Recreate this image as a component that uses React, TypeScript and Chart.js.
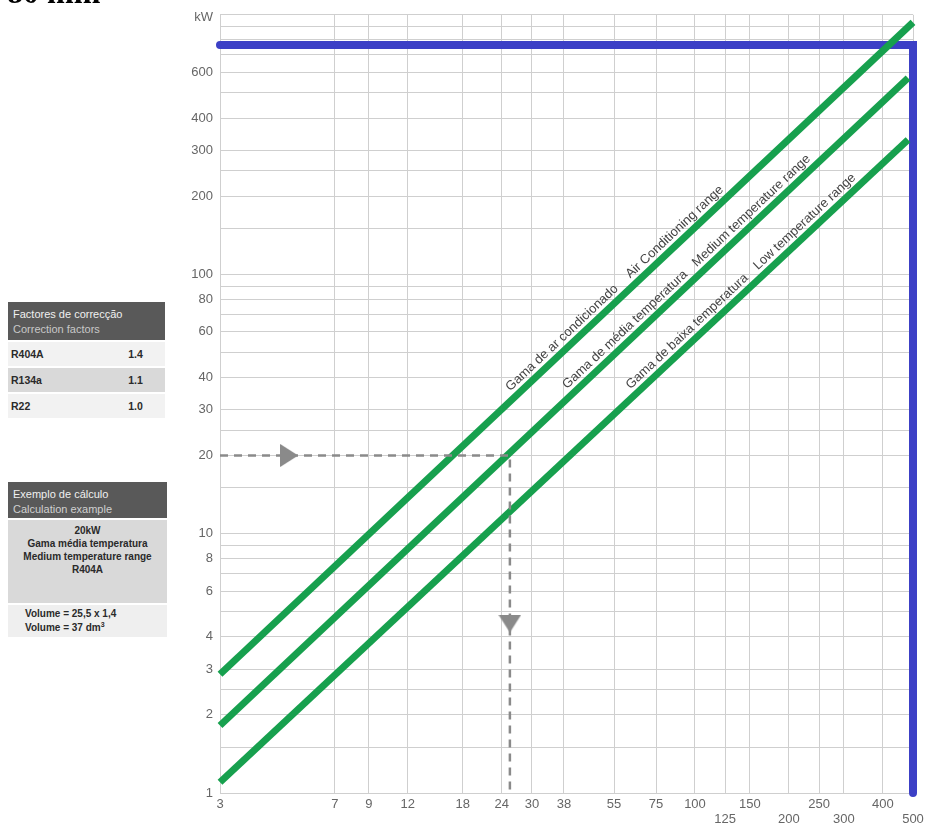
import React, { useEffect, useRef } from 'react';
import { Chart, registerables } from 'chart.js';

Chart.register(...registerables);

// ---- axes ----
const xTicks = [3, 7, 9, 12, 18, 24, 30, 38, 55, 75, 100, 125, 150, 200, 250, 300, 400, 500];
const xLowerRow = [125, 200, 300, 500];
const yGrid = [1, 1.5, 2, 2.5, 3, 4, 5, 6, 7, 8, 9, 10, 15, 20, 25, 30, 40, 50, 60, 70, 80, 90, 100, 150, 200, 250, 300, 400, 500, 600, 700, 800, 900, 1000];
const yLabels = [1, 2, 3, 4, 6, 8, 10, 20, 30, 40, 60, 80, 100, 200, 300, 400, 600];
const yUnit = 'kW';

// ---- series ----
const airConditioning = [{ x: 3, y: 2.87 }, { x: 500, y: 935 }];
const mediumTemp = [{ x: 3, y: 1.82 }, { x: 482, y: 571 }];
const lowTemp = [{ x: 3, y: 1.1 }, { x: 482, y: 330 }];
const capacityLimit = [{ x: 3, y: 765 }, { x: 500, y: 765 }, { x: 500, y: 1 }];
const examplePath = [{ x: 3, y: 20 }, { x: 25.5, y: 20 }, { x: 25.5, y: 1 }];
const arrowPoints = [{ x: 5, y: 20 }, { x: 25.5, y: 4.5 }];
const arrowRotations = [90, 180];

const seriesList = [airConditioning, mediumTemp, lowTemp];
const lineLabels = [
  { series: 0, x: 26.5, text: 'Gama de ar condicionado' },
  { series: 0, x: 64.3, text: 'Air Conditioning range' },
  { series: 1, x: 40.3, text: 'Gama de média temperatura' },
  { series: 1, x: 105, text: 'Medium temperature range' },
  { series: 2, x: 64.3, text: 'Gama de baixa temperatura' },
  { series: 2, x: 165, text: 'Low temperature range' },
];

// ---- side tables ----
const correctionTitle = ['Factores de correcção', 'Correction factors'];
const correctionRows = [
  ['R404A', '1.4'],
  ['R134a', '1.1'],
  ['R22', '1.0'],
];
const exampleTitle = ['Exemplo de cálculo', 'Calculation example'];
const exampleCase = ['20kW', 'Gama média temperatura', 'Medium temperature range', 'R404A'];
const exampleResult = ['Volume = 25,5 x 1,4', 'Volume = 37 dm'];

const FONT = '"Liberation Sans", Arial, Helvetica, sans-serif';
const GREEN = '#17a04e';
const BLUE = '#3c40c6';
const DASH = '#8a8a8a';
const GRID = '#cfcfcf';

function makeArrow(): HTMLCanvasElement {
  const c = document.createElement('canvas');
  const w = 23, h = 18;
  c.width = w; c.height = h;
  const g = c.getContext('2d')!;
  g.fillStyle = DASH;
  g.beginPath();
  g.moveTo(w / 2, 0);
  g.lineTo(w, h);
  g.lineTo(0, h);
  g.closePath();
  g.fill();
  return c;
}

const labelPlugin = {
  id: 'lineLabels',
  afterDatasetsDraw(chart: any) {
    const ctx = chart.ctx;
    const xs = chart.scales.x;
    const ys = chart.scales.y;
    ctx.save();
    ctx.font = `13px ${FONT}`;
    ctx.fillStyle = '#444';
    ctx.textAlign = 'left';
    ctx.textBaseline = 'alphabetic';
    lineLabels.forEach((l) => {
      const pts = seriesList[l.series];
      const a = pts[0];
      const b = pts[pts.length - 1];
      const p1 = { x: xs.getPixelForValue(a.x), y: ys.getPixelForValue(a.y) };
      const p2 = { x: xs.getPixelForValue(b.x), y: ys.getPixelForValue(b.y) };
      const ang = Math.atan2(p2.y - p1.y, p2.x - p1.x);
      const px = xs.getPixelForValue(l.x);
      const t = (px - p1.x) / (p2.x - p1.x);
      const py = p1.y + t * (p2.y - p1.y);
      ctx.save();
      ctx.translate(px, py);
      ctx.rotate(ang);
      ctx.fillText(l.text, 0, -7);
      ctx.restore();
    });
    ctx.font = `13px ${FONT}`;
    ctx.fillStyle = '#666';
    ctx.textAlign = 'right';
    ctx.textBaseline = 'middle';
    ctx.fillText(yUnit, chart.chartArea.left - 7, chart.chartArea.top + 3);
    ctx.restore();
  },
};

function ChartCanvas() {
  const ref = useRef<HTMLCanvasElement>(null);
  useEffect(() => {
    if (!ref.current) return;
    const arrow = makeArrow();
    const chart = new Chart(ref.current, {
      type: 'line',
      data: {
        datasets: [
          {
            data: examplePath,
            borderColor: DASH,
            borderWidth: 2.5,
            borderDash: [8, 6],
            pointRadius: 0,
            fill: false,
            clip: false as any,
          },
          {
            type: 'scatter' as any,
            data: arrowPoints,
            pointStyle: arrow as any,
            pointRotation: arrowRotations as any,
            pointRadius: 11,
            showLine: false,
            clip: false as any,
          },
          {
            data: airConditioning,
            borderColor: GREEN,
            borderWidth: 7,
            pointRadius: 0,
            fill: false,
            clip: false as any,
          },
          {
            data: mediumTemp,
            borderColor: GREEN,
            borderWidth: 7,
            pointRadius: 0,
            fill: false,
            clip: false as any,
          },
          {
            data: lowTemp,
            borderColor: GREEN,
            borderWidth: 7,
            pointRadius: 0,
            fill: false,
            clip: false as any,
          },
          {
            data: capacityLimit,
            borderColor: BLUE,
            borderWidth: 8,
            borderCapStyle: 'round',
            borderJoinStyle: 'miter',
            pointRadius: 0,
            fill: false,
            clip: false as any,
          },
        ] as any,
      },
      options: {
        animation: false,
        responsive: true,
        maintainAspectRatio: false,
        events: [],
        layout: { padding: { top: 12, right: 15, bottom: 0, left: 0 } },
        plugins: { legend: { display: false }, tooltip: { enabled: false } },
        scales: {
          x: {
            type: 'logarithmic',
            min: 3,
            max: 500,
            afterBuildTicks: (scale: any) => {
              scale.ticks = xTicks.map((v) => ({ value: v }));
            },
            afterFit: (scale: any) => {
              scale.height = 33;
            },
            grid: { color: GRID, lineWidth: 1, drawTicks: false },
            border: { display: true, color: GRID },
            ticks: {
              autoSkip: false,
              maxRotation: 0,
              minRotation: 0,
              padding: 4,
              color: '#666',
              font: { family: FONT, size: 13, lineHeight: 1.15 },
              callback: (v: any) => (xLowerRow.includes(Number(v)) ? ['', String(v)] : String(v)),
            },
          },
          y: {
            type: 'logarithmic',
            min: 1,
            max: 1000,
            afterBuildTicks: (scale: any) => {
              scale.ticks = yGrid.map((v) => ({ value: v }));
            },
            afterFit: (scale: any) => {
              scale.width = 220;
            },
            grid: { color: GRID, lineWidth: 1, drawTicks: false },
            border: { display: true, color: GRID },
            ticks: {
              autoSkip: false,
              padding: 7,
              color: '#666',
              font: { family: FONT, size: 13 },
              callback: (v: any) => (yLabels.includes(Number(v)) ? String(v) : ''),
            },
          },
        },
      } as any,
      plugins: [labelPlugin],
    });
    return () => chart.destroy();
  }, []);
  return <canvas ref={ref} />;
}

const headerStyle: React.CSSProperties = {
  background: '#595959',
  padding: '5px 5px 4px 5px',
  fontSize: 11,
  lineHeight: '15px',
  borderBottom: '2px solid #fff',
};

export default function App() {
  return (
    <div>
      <div
        style={{
          position: 'fixed', left: 0, top: 0, width: 928, height: 826, background: '#fff',
        }}
      >
        <ChartCanvas />
      </div>
      <div
        style={{
          position: 'fixed', left: 7, top: -24, fontFamily: '"Liberation Serif", serif',
          fontWeight: 'bold', fontSize: 32, lineHeight: '32px', color: '#000', zIndex: 2,
        }}
      >
        80 mm
      </div>
      {/* correction factors */}
      <div style={{ position: 'fixed', left: 8, top: 302, width: 157, fontFamily: FONT, zIndex: 2 }}>
        <div style={{ ...headerStyle, height: 29 }}>
          <div style={{ color: '#f0f0f0' }}>{correctionTitle[0]}</div>
          <div style={{ color: '#c8c8c8' }}>{correctionTitle[1]}</div>
        </div>
        {correctionRows.map((r, i) => (
          <div
            key={r[0]}
            style={{
              display: 'flex', height: 24, alignItems: 'center',
              background: i === 1 ? '#d9d9d9' : '#f2f2f2',
              borderBottom: '2px solid #fff', fontSize: 10.5, fontWeight: 'bold', color: '#2a2a2a',
            }}
          >
            <div style={{ width: 95, paddingLeft: 3 }}>{r[0]}</div>
            <div style={{ flex: 1, textAlign: 'center' }}>{r[1]}</div>
          </div>
        ))}
      </div>
      {/* calculation example */}
      <div style={{ position: 'fixed', left: 8, top: 482, width: 159, fontFamily: FONT, zIndex: 2 }}>
        <div style={{ ...headerStyle, height: 27 }}>
          <div style={{ color: '#f0f0f0' }}>{exampleTitle[0]}</div>
          <div style={{ color: '#d0d0d0' }}>{exampleTitle[1]}</div>
        </div>
        <div
          style={{
            background: '#d9d9d9', height: 85, boxSizing: 'border-box', paddingTop: 4,
            textAlign: 'center', fontSize: 10, fontWeight: 'bold', lineHeight: '13px', color: '#2a2a2a',
            borderBottom: '2px solid #fff',
          }}
        >
          {exampleCase.map((t) => (
            <div key={t}>{t}</div>
          ))}
        </div>
        <div
          style={{
            background: '#efefef', height: 32, boxSizing: 'border-box', paddingTop: 2, paddingLeft: 17,
            fontSize: 10, fontWeight: 'bold', lineHeight: '14px', color: '#2a2a2a',
          }}
        >
          <div>{exampleResult[0]}</div>
          <div>
            {exampleResult[1]}
            <sup style={{ fontSize: 7, lineHeight: 0 }}>3</sup>
          </div>
        </div>
      </div>
    </div>
  );
}
